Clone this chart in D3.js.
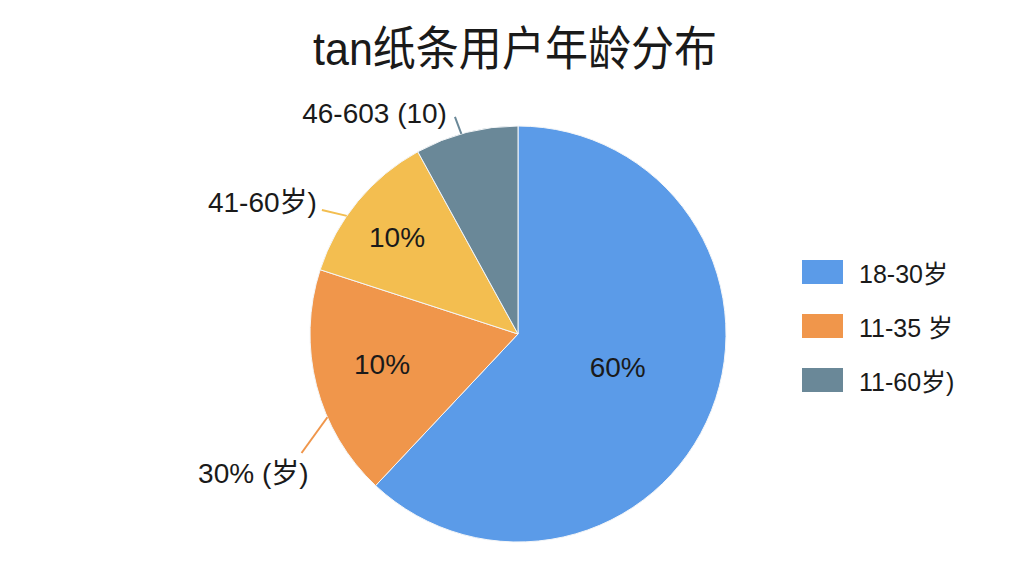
<!DOCTYPE html>
<html lang="zh-CN">
<head>
  <meta charset="utf-8">
  <title>tan纸条用户年龄分布</title>
  <script src="https://d3js.org/d3.v7.min.js"></script>
  <style>
    body { margin: 0; background: #fff; }
    text { font-family: "Liberation Sans", Arial, "Noto Sans CJK SC", sans-serif; fill: #1a1a1a; }
  </style>
</head>
<body>
<script>
  // data
  var values = [62, 18, 12, 8];
  var innerLabels = ["60%", "10%", "10%", ""];
  var outerLabels = ["", "30% (岁)", "41-60岁)", "46-603 (10)"];
  var legendLabels = ["18-30岁", "11-35 岁", "11-60岁)"];
  var legendSlices = [0, 1, 3];

  var colors = ["#5b9be8", "#f0964b", "#f3be50", "#6a8898"];

  var width = 1024, height = 576,
      cx = 518, cy = 334, R = 208;

  var svg = d3.select("body").append("svg")
    .attr("width", width)
    .attr("height", height);

  svg.append("text")
    .attr("x", 313)
    .attr("y", 65)
    .attr("font-size", "47px")
    .attr("textLength", 404)
    .attr("lengthAdjust", "spacingAndGlyphs")
    .attr("font-family", "'Noto Sans CJK SC', sans-serif")
    .text("tan纸条用户年龄分布");

  var pie = d3.pie().sort(null).value(function (d) { return d; });
  var arcs = pie(values);
  var arc = d3.arc().innerRadius(0).outerRadius(R);
  var deg = Math.PI / 180;

  function polar(a, r) { return [Math.sin(a) * r, -Math.cos(a) * r]; }
  function mid(d) { return (d.startAngle + d.endAngle) / 2; }

  var g = svg.append("g").attr("transform", "translate(" + cx + "," + cy + ")");

  g.selectAll("path")
    .data(arcs)
    .enter()
    .append("path")
    .attr("d", arc)
    .attr("fill", function (d, i) { return colors[i]; })
    .attr("stroke", "#f4f6f8")
    .attr("stroke-width", 1);

  // labels inside the slices (radius factor, angle shift in deg)
  var inner = [{ k: 0.505, da: -3.3 }, { k: 0.67, da: 1.8 }, { k: 0.745, da: -0.9 }, { k: 0.7, da: 0 }];

  g.selectAll("text.inner")
    .data(arcs)
    .enter()
    .append("text")
    .attr("class", "inner")
    .attr("text-anchor", "middle")
    .attr("font-size", "28px")
    .attr("transform", function (d, i) {
      var p = polar(mid(d) + inner[i].da * deg, R * inner[i].k);
      return "translate(" + p[0] + "," + (p[1] + 10) + ")";
    })
    .text(function (d, i) { return innerLabels[i]; });

  // callouts: start/end angle shifts (deg), end radius, text offset from line end
  var callout = [null,
    { a0: -9.2, a1: -14.4, r1: 247, dx: 7, dy: 30 },
    { a0: -5, a1: -7.3, r1: 232, dx: -5, dy: 2 },
    { a0: -1.4, a1: -1.8, r1: 226, dx: -8, dy: 6 }];

  arcs.forEach(function (d, i) {
    if (!outerLabels[i]) return;
    var c = callout[i];
    var p0 = polar(mid(d) + c.a0 * deg, R);
    var p1 = polar(mid(d) + c.a1 * deg, c.r1);
    g.append("line")
      .attr("x1", p0[0]).attr("y1", p0[1])
      .attr("x2", p1[0]).attr("y2", p1[1])
      .attr("stroke", colors[i])
      .attr("stroke-width", 2);
    g.append("text")
      .attr("x", p1[0] + c.dx)
      .attr("y", p1[1] + c.dy)
      .attr("text-anchor", "end")
      .attr("font-size", "28px")
      .text(outerLabels[i]);
  });

  // legend
  var legend = svg.append("g").attr("transform", "translate(802,260)");
  var item = legend.selectAll("g")
    .data(legendLabels)
    .enter()
    .append("g")
    .attr("transform", function (d, i) { return "translate(0," + i * 54 + ")"; });

  item.append("rect")
    .attr("width", 41)
    .attr("height", 24)
    .attr("fill", function (d, i) { return colors[legendSlices[i]]; });

  item.append("text")
    .attr("x", 57)
    .attr("y", 23)
    .attr("font-size", "25px")
    .text(function (d) { return d; });
</script>
</body>
</html>
